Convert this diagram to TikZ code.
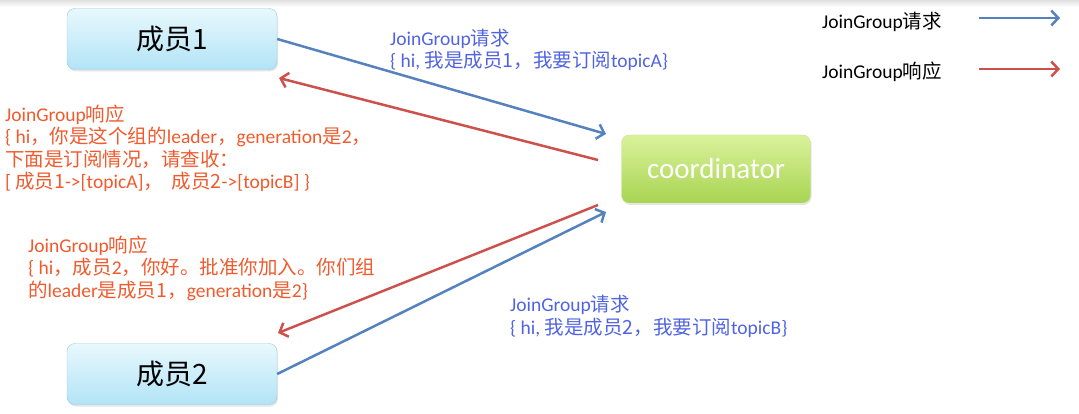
\documentclass[tikz,border=0pt]{standalone}
\usepackage{fontspec}
\setmainfont{Carlito}
\newfontfamily\zhfont{Noto Sans CJK SC}
\newcommand{\zh}[1]{{\zhfont #1}}
\usetikzlibrary{positioning, arrows.meta, shadows}

\definecolor{reqtext}{RGB}{80,100,225}
\definecolor{resptext}{RGB}{240,90,45}
\definecolor{reqline}{RGB}{85,130,190}
\definecolor{respline}{RGB}{205,80,75}
\definecolor{membertop}{RGB}{232,248,253}
\definecolor{memberbottom}{RGB}{178,228,246}
\definecolor{memberborder}{RGB}{150,205,228}
\definecolor{coordtop}{RGB}{218,242,155}
\definecolor{coordbottom}{RGB}{168,212,82}
\definecolor{coordborder}{RGB}{195,225,145}

\begin{document}
\begin{tikzpicture}[x=1pt, y=-1pt,
    member/.style={draw=memberborder, top color=membertop, bottom color=memberbottom, rounded corners=8pt, minimum width=210pt, minimum height=61pt, drop shadow={opacity=0.2, shadow xshift=1pt, shadow yshift=-2pt}, font=\zhfont\fontsize{28}{30}\selectfont},
    coord/.style={draw=coordborder, top color=coordtop, bottom color=coordbottom, rounded corners=8pt, minimum width=189pt, minimum height=68pt, drop shadow={opacity=0.2, shadow xshift=1pt, shadow yshift=-2pt}, text=white, font=\fontsize{29}{30}\selectfont},
    label/.style={anchor=base west, inner sep=0pt, align=left, font=\fontsize{19.5}{22.5}\selectfont},
    req/.style={draw=reqline, line width=2.5pt, arrows = {-Straight Barb[length=7pt, width=15pt]}},
    resp/.style={draw=respline, line width=2.5pt, arrows = {-Straight Barb[length=7pt, width=15pt]}}]
      \useasboundingbox (0,0) rectangle (1079,414);
      \shade[top color=black!12, bottom color=white] (0,0) rectangle (1079,7);

      % the three boxes
      \node[member] at (172,39) (m1) {成员1};
      \node[member] at (172,374) (m2) {成员2};
      \node[coord] at (716,169) (coord) {coordinator};

      % arrow ends next to the coordinator
      \coordinate (req1end) at (606,134);
      \coordinate (resp1start) at (598,160);
      \coordinate (resp1end) at (279,78);
      \coordinate (resp2start) at (598,205);
      \coordinate (resp2end) at (278,333);
      \coordinate (req2end) at (606,212);

      \draw[req] (m1.east) -- (req1end);
      \draw[resp] (resp1start) -- (resp1end);
      \draw[resp] (resp2start) -- (resp2end);
      \draw[req] (m2.east) -- (req2end);

      % message texts (base = last line)
      \node[label, text=reqtext] at (390,68) (req1) {JoinGroup\zh{请求}\\\{ hi,\ \zh{我是成员1，我要订阅}topicA\}};
      \node[label, text=resptext] at (5,189) (resp1) {JoinGroup\zh{响应}\\\{ hi\zh{，你是这个组的}leader\zh{，}generation\zh{是}2\zh{，}\\\zh{下面是订阅情况，请查收：}\\{[}\kern4pt\zh{成员1}->[topicA]\zh{，}\ \ \zh{成员2}->[topicB] \}};
      \node[label, text=resptext] at (28,297) (resp2) {JoinGroup\zh{响应}\\\{ hi\zh{，成员}2\zh{，你好。批准你加入。你们组}\\\zh{的}leader\zh{是成员1，}generation\zh{是}2\}};
      \node[label, text=reqtext] at (510,334) (req2) {JoinGroup\zh{请求}\\\{ hi,\ \zh{我是成员2，我要订阅}topicB\}};

      % legend
      \node[label] at (822,29) (legreq) {JoinGroup\zh{请求}};
      \node[label] at (822,79) (legresp) {JoinGroup\zh{响应}};
      \coordinate (legreqa) at (979,18);
      \coordinate (legreqb) at (1060,18);
      \coordinate (legrespa) at (979,69);
      \coordinate (legrespb) at (1060,69);
      \draw[req] (legreqa) -- (legreqb);
      \draw[resp] (legrespa) -- (legrespb);
    \end{tikzpicture}
\end{document}
